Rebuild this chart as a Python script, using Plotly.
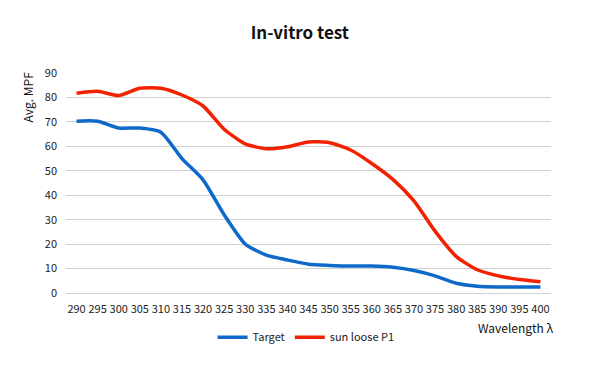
import plotly.graph_objects as go

wavelengths = [290, 295, 300, 305, 310, 315, 320, 325, 330, 335, 340, 345,
               350, 355, 360, 365, 370, 375, 380, 385, 390, 395, 400]
target = [70.3, 70.3, 67.5, 67.5, 65.8, 55, 46.3, 32, 20, 15.5, 13.5, 11.8,
          11.3, 11, 11, 10.5, 9.2, 7, 4, 2.8, 2.5, 2.5, 2.5]
sun_loose = [81.7, 82.5, 80.8, 83.8, 83.8, 81, 76.5, 67, 61, 59, 59.8, 61.8,
             61.5, 58.5, 53, 46.5, 37.7, 25.3, 15, 9.5, 7, 5.5, 4.6]

cats = [str(w) for w in wavelengths]
FONT = "Noto Sans CJK KR, Noto Sans, sans-serif"

fig = go.Figure()
fig.add_trace(go.Scatter(x=cats, y=target, mode="lines", name="Target",
                         line=dict(color="#0F69C8", width=3.5, shape="spline", smoothing=0.6)))
fig.add_trace(go.Scatter(x=cats, y=sun_loose, mode="lines", name="sun loose P1",
                         line=dict(color="#F22200", width=3.5, shape="spline", smoothing=0.6)))

fig.update_layout(
    width=592, height=359,
    margin=dict(l=58, r=49, t=65, b=74, autoexpand=False),
    paper_bgcolor="white", plot_bgcolor="white",
    font=dict(family=FONT, size=11, color="#222222"),
    title=dict(text="<b>In-vitro test</b>", x=0.493, xanchor="center", y=0.930, yanchor="middle",
               font=dict(size=17, color="#111111", family=FONT)),
    xaxis=dict(type="category", range=[-0.5, 22.5], showgrid=False, showline=True,
               linecolor="#D0D0D0", linewidth=1, ticks="", tickfont=dict(size=11),
               tickangle=0, automargin=False, ticklabelstandoff=6),
    yaxis=dict(range=[0, 90], dtick=10, showgrid=True, gridcolor="#D0D0D0", gridwidth=1,
               zeroline=False, showline=False, ticks="", tickfont=dict(size=11),
               automargin=False, ticklabelstandoff=8),
    legend=dict(orientation="h", x=0.495, xanchor="center", y=-0.135, yanchor="top",
                font=dict(size=11), itemwidth=30, tracegroupgap=0),
    showlegend=True,
)
fig.add_annotation(text="Avg. MPF", xref="paper", yref="paper", x=-0.080, y=0.89,
                   xanchor="center", yanchor="middle", textangle=-90, showarrow=False,
                   font=dict(size=12, color="#111111"))
fig.add_annotation(text="Wavelength λ", xref="paper", yref="paper", x=0.928, y=-0.159,
                   xanchor="center", yanchor="middle", showarrow=False,
                   font=dict(size=12, color="#111111"))

fig.write_html("out.html")
